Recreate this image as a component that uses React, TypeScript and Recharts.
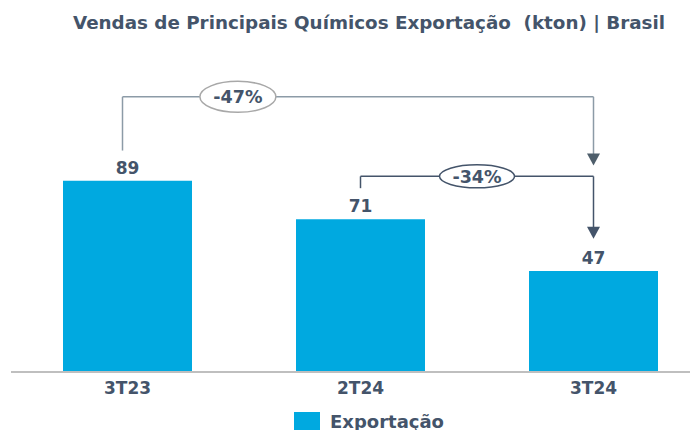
import React from 'react';
import { BarChart, Bar, XAxis, YAxis, LabelList, ReferenceLine } from 'recharts';

const FONT = '"DejaVu Sans", Verdana, sans-serif';
const TEXT = '#44546a';
const BLUE = '#00a9e0';

// chart data (kton)
const periods = ['3T23', '2T24', '3T24'];
const exportVolumes = [89, 71, 47];

// comparison brackets, heights given in kton so they follow the y scale
const bracketFrom = ['3T23', '2T24'];
const bracketTo = ['3T24', '3T24'];
const bracketStart = [103, 85.5];
const bracketTop = [128, 91];
const bracketEnd = [96, 62];

const data = periods.map((p, i) => ({ periodo: p, exportacao: exportVolumes[i] }));

const pct = (a: number, b: number) => `${Math.round(((b - a) / a) * 100)}%`;

const styles = [
  { line: '#8c9ba7', head: '#4e5e6b', ring: '#a8a8a8', dx: -5, at: 0.245, rx: 38, ry: 15.5 },
  { line: TEXT, head: TEXT, ring: TEXT, dx: 0, at: 0.5, rx: 37.5, ry: 11.5 },
];

const App = () => {
  return (
    <div style={{ position: 'relative', width: 698, height: 438, margin: -8, overflow: 'hidden', background: '#fff' }}>
      <svg width={698} height={40} style={{ position: 'absolute', left: 0, top: 0 }}>
        <text
          x={73}
          y={28.5}
          textLength={592}
          lengthAdjust="spacingAndGlyphs"
          fill={TEXT}
          fontFamily={FONT}
          fontWeight="bold"
          fontSize={18}
          style={{ whiteSpace: 'pre' }}
        >
          {'Vendas de Principais Químicos Exportação  (kton) | Brasil'}
        </text>
      </svg>

      <div style={{ position: 'absolute', left: 0, top: 0 }}>
        <BarChart width={710} height={430} data={data} margin={{ top: 157, right: 0, left: 11, bottom: 28 }}>
          <XAxis
            dataKey="periodo"
            height={30}
            interval={0}
            tickLine={false}
            tickMargin={4}
            axisLine={{ stroke: '#bfbfbf', strokeWidth: 2 }}
            tick={{ fill: TEXT, fontSize: 17, fontWeight: 'bold', fontFamily: FONT }}
          />
          <YAxis hide domain={[0, 100]} />
          <Bar dataKey="exportacao" fill={BLUE} barSize={129} isAnimationActive={false}>
            <LabelList
              dataKey="exportacao"
              position="top"
              offset={7}
              fill={TEXT}
              fontSize={17}
              fontWeight="bold"
              fontFamily={FONT}
            />
          </Bar>

          {bracketFrom.map((from, i) => {
            const s = styles[i];
            const label = pct(
              exportVolumes[periods.indexOf(from)],
              exportVolumes[periods.indexOf(bracketTo[i])]
            );
            return (
              <React.Fragment key={from + i}>
                {/* left leg */}
                <ReferenceLine
                  ifOverflow="visible"
                  segment={[{ x: from, y: bracketStart[i] }, { x: from, y: bracketTop[i] }]}
                  shape={(p: any) => (
                    <line x1={p.x1 + s.dx} y1={p.y1} x2={p.x2 + s.dx} y2={p.y2} stroke={s.line} strokeWidth={1.5} />
                  )}
                />
                {/* right leg with arrow */}
                <ReferenceLine
                  ifOverflow="visible"
                  segment={[{ x: bracketTo[i], y: bracketTop[i] }, { x: bracketTo[i], y: bracketEnd[i] }]}
                  shape={(p: any) => (
                    <g>
                      <line x1={p.x1} y1={p.y1} x2={p.x2} y2={p.y2 - 10} stroke={s.line} strokeWidth={1.5} />
                      <path
                        d={`M${p.x2 - 6.5},${p.y2 - 12} L${p.x2 + 6.5},${p.y2 - 12} L${p.x2},${p.y2} Z`}
                        fill={s.head}
                      />
                    </g>
                  )}
                />
                {/* top rail with bubble */}
                <ReferenceLine
                  ifOverflow="visible"
                  segment={[{ x: from, y: bracketTop[i] }, { x: bracketTo[i], y: bracketTop[i] }]}
                  shape={(p: any) => {
                    const x1 = p.x1 + s.dx;
                    const cx = x1 + s.at * (p.x2 - x1);
                    return (
                      <g>
                        <line x1={x1} y1={p.y1} x2={p.x2} y2={p.y2} stroke={s.line} strokeWidth={1.5} />
                        <ellipse cx={cx} cy={p.y1} rx={s.rx} ry={s.ry} fill="#fff" stroke={s.ring} strokeWidth={1.5} />
                        <text
                          x={cx}
                          y={p.y1}
                          dy="0.36em"
                          textAnchor="middle"
                          fill={TEXT}
                          fontFamily={FONT}
                          fontWeight="bold"
                          fontSize={17.5}
                        >
                          {label}
                        </text>
                      </g>
                    );
                  }}
                />
              </React.Fragment>
            );
          })}
        </BarChart>
      </div>

      <div
        style={{
          position: 'absolute',
          left: 294,
          top: 412,
          display: 'flex',
          alignItems: 'flex-start',
          fontFamily: FONT,
          fontWeight: 'bold',
          fontSize: 18,
          color: TEXT,
          lineHeight: '20px',
        }}
      >
        <span style={{ display: 'inline-block', width: 26, height: 20, background: BLUE, marginRight: 10 }} />
        <span>Exportação</span>
      </div>
    </div>
  );
};

export default App;
